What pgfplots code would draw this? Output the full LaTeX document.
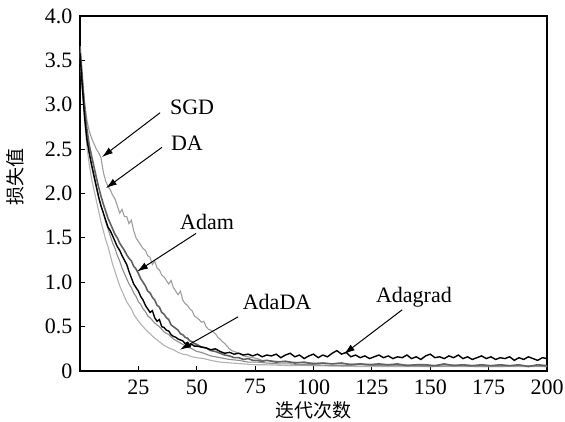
\documentclass[border=0pt]{standalone}
\usepackage{fontspec}
\setmainfont{Liberation Serif}
\newfontfamily\cjk{Noto Sans CJK SC}
\usepackage{pgfplots}
\pgfplotsset{compat=1.18}
\usetikzlibrary{arrows.meta}

\definecolor{sgdc}{gray}{0.62}
\definecolor{dac}{gray}{0.55}
\definecolor{adadac}{gray}{0.70}
\definecolor{adamc}{gray}{0.38}

\begin{document}
\begin{tikzpicture}
\begin{axis}[
  scale only axis,
  width=467pt, height=355pt,
  at={(0,0)}, anchor=south west,
  xmin=0, xmax=200, ymin=0, ymax=4,
  xtick={25,50,75,100,125,150,175,200},
  ytick={0,0.5,1,1.5,2,2.5,3,3.5,4},
  yticklabels={0,0.5,1.0,1.5,2.0,2.5,3.0,3.5,4.0},
  tick align=inside,
  xtick pos=bottom, ytick pos=left,
  major tick length=5pt,
  tick style={black, line width=1pt},
  axis line style={black, line width=1.6pt},
  ticklabel style={font=\fontsize{22}{22}\selectfont},
  xticklabel style={yshift=-5pt},
  yticklabel style={xshift=-4pt},
  /pgf/number format/assume math mode=true,
  xlabel={\cjk 迭代次数},
  ylabel={\cjk 损失值},
  xlabel style={font=\fontsize{19}{19}\selectfont, at={(axis description cs:0.5,-0.11)}, anchor=center},
  ylabel style={font=\fontsize{19}{19}\selectfont, at={(axis description cs:-0.139,0.547)}, anchor=center},
  clip=true,
]
% AdaDA (lowest, lightest)
\addplot[adadac, line width=1.1pt] coordinates {
(0,3.55) (1,3.15) (2,2.80) (3,2.52) (4,2.32) (5,2.16) (6,2.04) (7,1.92) (8,1.80) (9,1.68)
(10,1.58) (11,1.48) (12,1.40) (13,1.30) (14,1.20) (15,1.12) (16,1.04) (17,0.96) (18,0.90) (19,0.84)
(20,0.78) (21,0.74) (22,0.70) (23,0.64) (24,0.60) (26,0.53) (28,0.47) (30,0.42) (32,0.37) (34,0.33)
(36,0.29) (38,0.26) (40,0.24) (42,0.21) (44,0.19) (46,0.18) (48,0.16) (50,0.15) (53,0.14) (56,0.12)
(60,0.10) (65,0.09) (70,0.08) (75,0.07) (80,0.07) (90,0.06) (100,0.06) (120,0.05) (140,0.05) (160,0.05) (180,0.05) (200,0.05)};
% DA
\addplot[dac, line width=1.1pt] coordinates {
(0,3.60) (1,3.22) (2,2.90) (3,2.64) (4,2.45) (5,2.30) (6,2.18) (7,2.06) (8,1.95) (9,1.86)
(10,1.78) (11,1.68) (12,1.60) (13,1.52) (14,1.44) (15,1.38) (16,1.30) (17,1.24) (18,1.16) (19,1.10)
(20,1.04) (21,0.98) (22,0.94) (23,0.88) (24,0.84) (25,0.78) (26,0.75) (27,0.70) (28,0.67) (29,0.62)
(30,0.60) (32,0.54) (34,0.50) (36,0.44) (38,0.41) (40,0.36) (42,0.33) (44,0.30) (46,0.27) (48,0.25)
(50,0.22) (52,0.21) (54,0.19) (56,0.17) (58,0.16) (60,0.15) (64,0.13) (68,0.12) (72,0.10) (76,0.10)
(80,0.09) (85,0.08) (90,0.08) (95,0.07) (100,0.07) (110,0.06) (120,0.07) (130,0.06) (140,0.06) (150,0.05)
(160,0.06) (170,0.05) (180,0.05) (190,0.06) (200,0.05)};
% SGD (slowest)
\addplot[sgdc, line width=1.1pt] coordinates {
(0,3.62) (1,3.28) (2,3.02) (3,2.82) (4,2.70) (5,2.62) (6,2.56) (7,2.50) (8,2.46) (9,2.40)
(10,2.24) (11,2.14) (12,2.08) (13,2.04) (14,1.98) (15,1.94) (16,1.86) (17,1.78) (18,1.82) (19,1.74)
(20,1.74) (21,1.66) (22,1.70) (23,1.58) (24,1.50) (25,1.46) (26,1.42) (27,1.38) (28,1.36) (29,1.30)
(30,1.28) (31,1.20) (32,1.24) (33,1.16) (34,1.14) (35,1.08) (36,1.06) (37,1.02) (38,0.98) (39,1.02)
(40,0.94) (41,0.90) (42,0.86) (43,0.90) (44,0.80) (45,0.76) (46,0.74) (47,0.70) (48,0.68) (49,0.62)
(50,0.60) (51,0.58) (52,0.55) (53,0.56) (54,0.50) (55,0.47) (56,0.46) (57,0.44) (58,0.42) (59,0.38)
(60,0.36) (61,0.33) (62,0.31) (63,0.28) (64,0.25) (65,0.23) (66,0.22) (68,0.20) (70,0.17) (72,0.16)
(74,0.15) (76,0.14) (78,0.12) (80,0.12) (84,0.11) (88,0.10) (92,0.10) (96,0.09) (100,0.09) (110,0.08)
(120,0.08) (130,0.07) (140,0.07) (150,0.06) (160,0.07) (170,0.06) (180,0.06) (190,0.06) (200,0.06)};
% Adam
\addplot[adamc, line width=1.6pt] coordinates {
(0,3.66) (1,3.30) (2,2.96) (3,2.72) (4,2.54) (5,2.42) (6,2.30) (7,2.18) (8,2.07) (9,1.97)
(10,1.88) (11,1.80) (12,1.72) (13,1.66) (14,1.60) (15,1.54) (16,1.50) (17,1.44) (18,1.40) (19,1.36)
(20,1.31) (21,1.27) (22,1.24) (23,1.18) (24,1.15) (25,1.10) (26,1.04) (27,1.00) (28,0.96) (29,0.90)
(30,0.88) (31,0.83) (32,0.80) (33,0.74) (34,0.72) (35,0.66) (36,0.64) (37,0.60) (38,0.58) (39,0.52)
(40,0.50) (41,0.48) (42,0.46) (43,0.42) (44,0.41) (45,0.38) (46,0.37) (47,0.34) (48,0.33) (49,0.31)
(50,0.30) (52,0.27) (54,0.26) (56,0.23) (58,0.22) (60,0.20) (62,0.18) (64,0.17) (66,0.15) (68,0.15)
(70,0.13) (72,0.14) (74,0.12) (76,0.12) (78,0.11) (80,0.12) (84,0.10) (88,0.11) (92,0.09) (96,0.10)
(100,0.08) (104,0.09) (108,0.08) (112,0.09) (116,0.07) (120,0.08) (124,0.07) (128,0.08) (132,0.07) (136,0.08)
(140,0.06) (144,0.07) (148,0.07) (152,0.06) (156,0.08) (160,0.06) (164,0.07) (168,0.06) (172,0.07) (176,0.06)
(180,0.07) (184,0.06) (188,0.07) (192,0.05) (196,0.07) (200,0.06)};
% Adagrad (black)
\addplot[black, line width=1.4pt] coordinates {
(0,3.58) (1,3.20) (2,2.85) (3,2.60) (4,2.45) (5,2.32) (6,2.20) (7,2.08) (8,1.96) (9,1.86)
(10,1.78) (11,1.70) (12,1.62) (13,1.58) (14,1.52) (15,1.46) (16,1.40) (17,1.36) (18,1.30) (19,1.25)
(20,1.20) (21,1.12) (22,1.05) (23,0.98) (24,0.94) (25,0.90) (26,0.84) (27,0.80) (28,0.74) (29,0.70)
(30,0.66) (31,0.68) (32,0.60) (33,0.56) (34,0.58) (35,0.50) (36,0.49) (37,0.46) (38,0.45) (39,0.41)
(40,0.39) (41,0.38) (42,0.36) (43,0.35) (44,0.34) (45,0.31) (46,0.32) (47,0.29) (48,0.30) (49,0.28)
(50,0.28) (52,0.27) (54,0.26) (56,0.24) (58,0.25) (60,0.22) (62,0.20) (64,0.21) (66,0.19) (68,0.20)
(70,0.18) (72,0.19) (74,0.17) (76,0.19) (78,0.16) (80,0.18) (82,0.17) (84,0.19) (86,0.15) (88,0.18)
(90,0.20) (92,0.16) (94,0.18) (96,0.14) (98,0.17) (100,0.19) (102,0.15) (104,0.18) (106,0.16) (108,0.20)
(110,0.23) (112,0.19) (114,0.21) (116,0.16) (118,0.18) (120,0.15) (122,0.17) (124,0.14) (126,0.16) (128,0.18)
(130,0.15) (132,0.17) (134,0.14) (136,0.16) (138,0.15) (140,0.18) (142,0.14) (144,0.16) (146,0.13) (148,0.17)
(150,0.19) (152,0.15) (154,0.16) (156,0.14) (158,0.17) (160,0.15) (162,0.18) (164,0.14) (166,0.16) (168,0.13)
(170,0.15) (172,0.17) (174,0.14) (176,0.16) (178,0.13) (180,0.15) (182,0.14) (184,0.16) (186,0.12) (188,0.15)
(190,0.13) (192,0.16) (194,0.14) (196,0.12) (198,0.15) (200,0.14)};

% annotations
\tikzset{lab/.style={font=\fontsize{22}{22}\selectfont, inner sep=0pt},
         arr/.style={-{Latex[length=11pt,width=7pt]}, line width=1pt, black}}
\node[lab] at (axis cs:48,2.97) {SGD};
\draw[arr] (axis cs:34.3,2.91) -- (axis cs:9.4,2.41);
\node[lab] at (axis cs:45.8,2.57) {DA};
\draw[arr] (axis cs:35.1,2.52) -- (axis cs:11.1,2.06);
\node[lab] at (axis cs:54.4,1.68) {Adam};
\draw[arr] (axis cs:49.7,1.55) -- (axis cs:24.4,1.12);
\node[lab] at (axis cs:84.4,0.78) {AdaDA};
\draw[arr] (axis cs:67.7,0.61) -- (axis cs:42.8,0.24);
\node[lab] at (axis cs:143,0.83) {Adagrad};
\draw[arr] (axis cs:138,0.69) -- (axis cs:113,0.19);
\end{axis}
\pgfresetboundingbox
\path[use as bounding box] (-80pt,-50pt) rectangle (485pt,371pt);
\end{tikzpicture}
\end{document}
